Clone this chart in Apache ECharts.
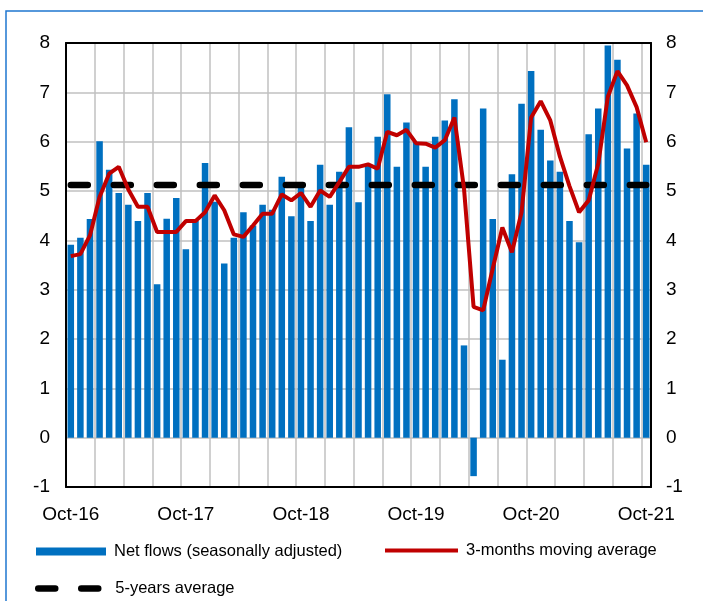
<!DOCTYPE html>
<html>
<head>
<meta charset="utf-8">
<script src="https://cdn.jsdelivr.net/npm/echarts@6/dist/echarts.min.js"></script>
<style>
  html, body { margin: 0; padding: 0; background: #fff; }
  #main { width: 703px; height: 601px; }
</style>
</head>
<body>
<div id="main"></div>
<script>
var months = [
  'Oct-16','Nov-16','Dec-16','Jan-17','Feb-17','Mar-17','Apr-17','May-17','Jun-17','Jul-17','Aug-17','Sep-17',
  'Oct-17','Nov-17','Dec-17','Jan-18','Feb-18','Mar-18','Apr-18','May-18','Jun-18','Jul-18','Aug-18','Sep-18',
  'Oct-18','Nov-18','Dec-18','Jan-19','Feb-19','Mar-19','Apr-19','May-19','Jun-19','Jul-19','Aug-19','Sep-19',
  'Oct-19','Nov-19','Dec-19','Jan-20','Feb-20','Mar-20','Apr-20','May-20','Jun-20','Jul-20','Aug-20','Sep-20',
  'Oct-20','Nov-20','Dec-20','Jan-21','Feb-21','Mar-21','Apr-21','May-21','Jun-21','Jul-21','Aug-21','Sep-21',
  'Oct-21'
];

// net flows, seasonally adjusted
var netFlows = [
  3.91, 4.05, 4.43, 6.01, 5.43, 4.96, 4.72, 4.39, 4.96, 3.11, 4.44, 4.86,
  3.82, 4.39, 5.57, 4.78, 3.53, 4.05, 4.57, 4.30, 4.72, 4.62, 5.29, 4.49,
  5.08, 4.39, 5.53, 4.72, 5.39, 6.29, 4.77, 5.52, 6.10, 6.96, 5.49, 6.39,
  6.00, 5.49, 6.10, 6.43, 6.86, 1.87, -0.78, 6.67, 4.43, 1.58, 5.34, 6.77,
  7.43, 6.24, 5.62, 5.39, 4.39, 3.96, 6.15, 6.67, 7.95, 7.66, 5.86, 6.57,
  5.53
];

// 3-months moving average
var movingAvg = [
  3.68, 3.72, 4.10, 4.88, 5.35, 5.49, 5.03, 4.68, 4.68, 4.17, 4.17, 4.17,
  4.39, 4.39, 4.57, 4.91, 4.61, 4.12, 4.07, 4.30, 4.54, 4.54, 4.93, 4.81,
  4.96, 4.68, 5.01, 4.88, 5.18, 5.49, 5.49, 5.54, 5.45, 6.20, 6.13, 6.24,
  5.97, 5.96, 5.88, 6.03, 6.49, 5.05, 2.65, 2.58, 3.43, 4.26, 3.76, 4.57,
  6.49, 6.82, 6.43, 5.70, 5.10, 4.57, 4.81, 5.55, 6.91, 7.43, 7.14, 6.70,
  5.99
];

var fiveYearAvg = 5.12;

var font = 'Liberation Sans, Arial, sans-serif';
var gridGray = { color: '#C0C0C0', width: 1.5 };
var frameLine = { show: true, onZero: false, lineStyle: { color: '#000', width: 2 } };
var avgStyle = { color: '#000', width: 6.5, type: [17, 26], cap: 'round' };
var maStyle = { color: '#C00000', width: 4 };

var myChart = echarts.init(document.getElementById('main'));

// border-only axis (plot frame drawn above the grid lines)
function frameX(pos) {
  return {
    type: 'category', data: months, position: pos, z: 10,
    axisLine: frameLine, axisTick: { show: false },
    axisLabel: { show: false }, splitLine: { show: false }
  };
}
function frameY(pos) {
  return {
    type: 'value', position: pos, min: -1, max: 8, interval: 1, z: 10,
    axisLine: frameLine, axisTick: { show: false },
    axisLabel: { show: false }, splitLine: { show: false }
  };
}

var option = {
  animation: false,
  backgroundColor: '#fff',
  graphic: [
    {
      type: 'rect',
      silent: true,
      shape: { x: 6, y: 11, width: 720, height: 620 },
      style: { fill: 'none', stroke: '#1F77D0', lineWidth: 1.5 }
    }
  ],
  legend: [
    {
      data: ['Net flows (seasonally adjusted)'],
      left: 36, top: 543, padding: 0,
      icon: 'rect', itemWidth: 70, itemHeight: 8,
      selectedMode: false,
      textStyle: { fontSize: 16.5, color: '#000', fontFamily: font, padding: [0, 0, 0, 3] }
    },
    {
      data: ['3-months moving average'],
      left: 383, top: 542, padding: 0,
      itemWidth: 73, itemHeight: 18,
      itemStyle: { opacity: 0 },
      lineStyle: maStyle,
      selectedMode: false,
      textStyle: { fontSize: 16.5, color: '#000', fontFamily: font, padding: [0, 0, 0, 3] }
    },
    {
      data: ['5-years average'],
      left: 35, top: 580, padding: 0,
      itemWidth: 64, itemHeight: 18,
      itemStyle: { opacity: 0 },
      lineStyle: avgStyle,
      selectedMode: false,
      textStyle: { fontSize: 16.5, color: '#000', fontFamily: font, padding: [0, 0, 0, 8] }
    }
  ],
  grid: { left: 66, right: 52, top: 43, bottom: 114 },
  xAxis: [
    {
      type: 'category',
      data: months,
      position: 'bottom',
      boundaryGap: true,
      axisLine: { show: false },
      axisTick: { show: false },
      axisLabel: { interval: 11, fontSize: 19, color: '#000', fontFamily: font, margin: 18 },
      splitLine: { show: true, interval: 2, lineStyle: gridGray }
    },
    frameX('top'),
    frameX('bottom')
  ],
  yAxis: [
    {
      type: 'value', position: 'left',
      min: -1, max: 8, interval: 1,
      axisLine: { show: false }, axisTick: { show: false },
      axisLabel: { fontSize: 19, color: '#000', fontFamily: font, margin: 16 },
      splitLine: { show: true, lineStyle: gridGray }
    },
    {
      type: 'value', position: 'right',
      min: -1, max: 8, interval: 1, z: 10,
      axisLine: frameLine, axisTick: { show: false },
      axisLabel: { fontSize: 19, color: '#000', fontFamily: font, margin: 15 },
      splitLine: { show: false }
    },
    frameY('left')
  ],
  series: [
    {
      name: 'Net flows (seasonally adjusted)',
      type: 'bar',
      data: netFlows,
      barCategoryGap: '32%',
      itemStyle: { color: '#0070C0' },
      z: 2
    },
    {
      name: '5-years average',
      type: 'line',
      data: [[months[0], fiveYearAvg], [months[months.length - 1], fiveYearAvg]],
      symbol: 'none',
      lineStyle: avgStyle,
      itemStyle: { color: '#000' },
      z: 3
    },
    {
      name: '3-months moving average',
      type: 'line',
      data: movingAvg,
      symbol: 'none',
      lineStyle: maStyle,
      itemStyle: { color: '#C00000' },
      z: 4
    }
  ]
};

myChart.setOption(option);
</script>
</body>
</html>
